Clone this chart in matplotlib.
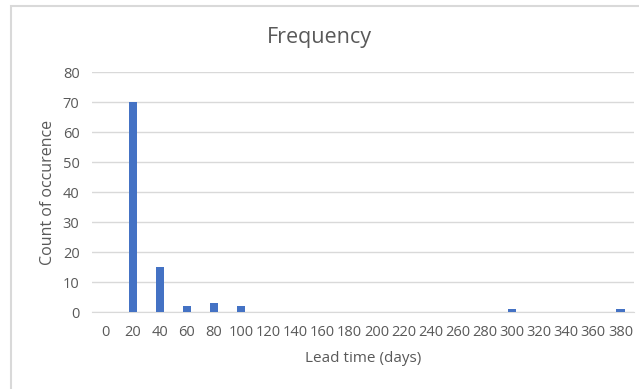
import numpy as np
import matplotlib
matplotlib.use("Agg")
import matplotlib.pyplot as plt
from matplotlib.patches import Rectangle

# lead-time bins (days) and how many orders fell in each
bins = [0, 20, 40, 60, 80, 100, 120, 140, 160, 180, 200,
        220, 240, 260, 280, 300, 320, 340, 360, 380]
counts = [0, 70, 15, 2, 3, 2, 0, 0, 0, 0, 0,
          0, 0, 0, 0, 1, 0, 0, 0, 1]

BAR = "#4472C4"
TEXT = "#595959"
GRID = "#D9D9D9"

plt.rcParams["font.family"] = ["Open Sans", "DejaVu Sans"]

W, H = 639, 389
fig = plt.figure(figsize=(W / 100, H / 100), dpi=100)

# chart frame (runs off the right and bottom edges)
fig.patches.append(Rectangle((11 / W, -0.05), 1.1, 1 - 6 / H + 0.05,
                             transform=fig.transFigure, fill=False,
                             edgecolor=GRID, lw=1.5))

ax = fig.add_axes([92 / W, 1 - 312 / H, 542 / W, 240 / H])
x = np.arange(len(bins))
ax.bar(x, counts, width=0.3, color=BAR, zorder=3)

ax.set_xlim(-0.5, len(bins) - 0.5)
ax.set_ylim(0, 80)
ax.set_yticks(range(0, 81, 10))
ax.set_xticks(x)
ax.set_xticklabels([str(b) for b in bins])
ax.tick_params(axis="both", length=0, colors=TEXT, labelsize=10.5)
ax.tick_params(axis="x", pad=9)
ax.tick_params(axis="y", pad=9)
ax.grid(axis="y", color=GRID, lw=1, zorder=0)
for s in ("top", "right", "left"):
    ax.spines[s].set_visible(False)
ax.spines["bottom"].set_color(GRID)

ax.set_xlabel("Lead time (days)", color=TEXT, fontsize=11, labelpad=8)
ax.set_ylabel("Count of occurence", color=TEXT, fontsize=11.5, labelpad=5)
fig.text(0.5, 1 - 38 / H, "Frequency", ha="center", va="center",
         color=TEXT, fontsize=15.5)

fig.savefig("out.png", dpi=100)
